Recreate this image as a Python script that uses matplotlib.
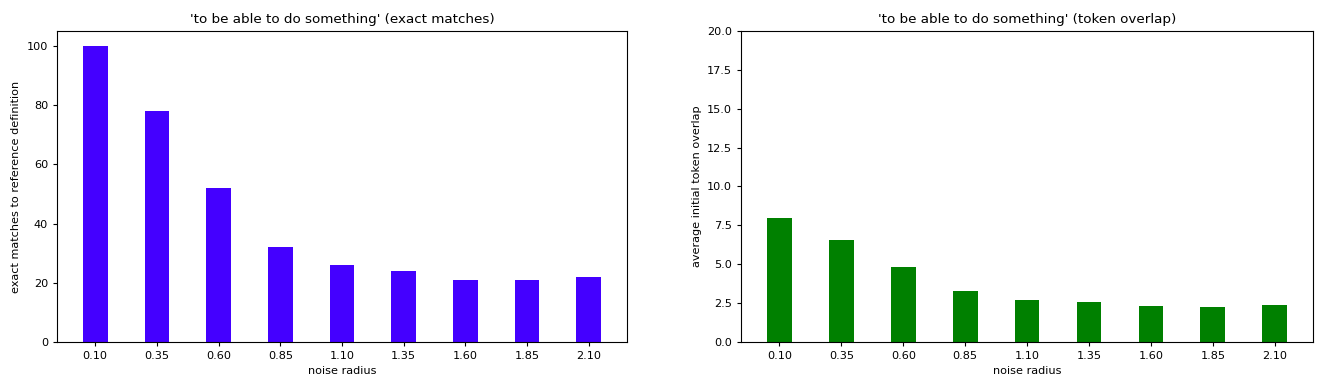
import matplotlib
matplotlib.use("Agg")
import matplotlib.pyplot as plt
import numpy as np

radii = ["0.10", "0.35", "0.60", "0.85", "1.10", "1.35", "1.60", "1.85", "2.10"]
exact_matches = [100, 78, 52, 32, 26, 24, 21, 21, 22]
token_overlap = [8.0, 6.55, 4.8, 3.3, 2.72, 2.55, 2.3, 2.25, 2.35]

phrase = "'to be able to do something'"
x = np.arange(len(radii))

# the reference looks like a shrunk screenshot, so scale text down a bit
plt.rcParams["font.size"] = 8.1
plt.rcParams["axes.titlesize"] = 9.7
plt.rcParams["xtick.major.size"] = 2.9
plt.rcParams["ytick.major.size"] = 2.9
plt.rcParams["axes.linewidth"] = 0.8

fig = plt.figure(figsize=(13.21, 3.85), dpi=100)

ax1 = fig.add_axes([0.0431, 0.1117, 0.4315, 0.8078])
ax1.bar(x, exact_matches, width=0.4, color="#4400ff")
ax1.set_xticks(x)
ax1.set_xticklabels(radii)
ax1.set_title(phrase + " (exact matches)")
ax1.set_xlabel("noise radius")
ax1.set_ylabel("exact matches to reference definition")

ax2 = fig.add_axes([0.561, 0.1117, 0.433, 0.8078])
ax2.bar(x, token_overlap, width=0.4, color="green")
ax2.set_xticks(x)
ax2.set_xticklabels(radii)
ax2.set_ylim(0, 20)
ax2.set_title(phrase + " (token overlap)")
ax2.set_xlabel("noise radius")
ax2.set_ylabel("average initial token overlap")

fig.savefig("out.png", dpi=100)
